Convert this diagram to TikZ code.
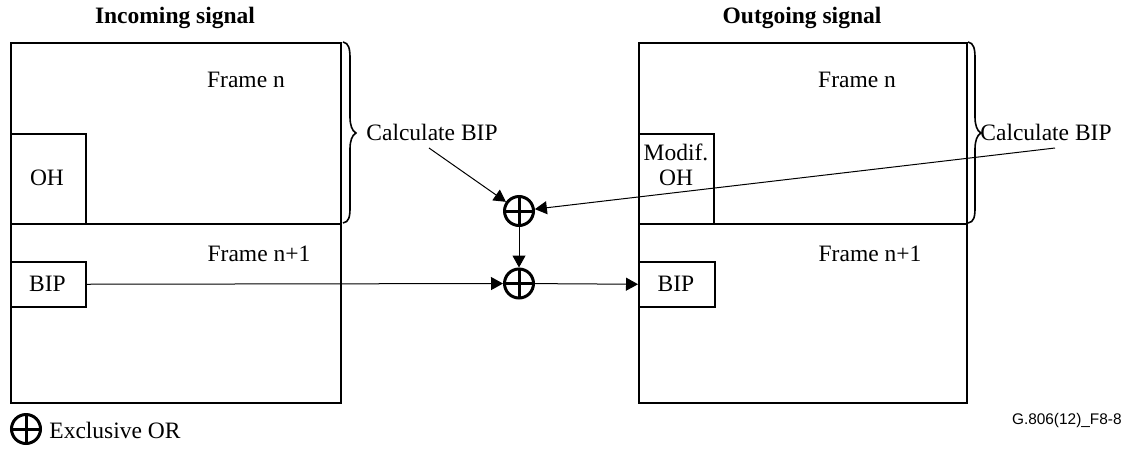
\documentclass[tikz,border=0pt]{standalone}
\usepackage{fontspec}
\setmainfont{Liberation Serif}
\newfontfamily\labelsans{Liberation Sans}
\usetikzlibrary{arrows.meta}
\begin{document}
\begin{tikzpicture}[x=0.5pt,y=-0.5pt,
  every node/.style={font=\fontsize{11.75}{13}\selectfont},
  frame/.style={draw,line width=0.75pt,inner sep=0,anchor=north west},
  txt/.style={inner sep=0},
  xor/.style={circle,draw,line width=1.5pt,minimum size=14.5pt,inner sep=0,
    path picture={\draw[line width=1.5pt] (path picture bounding box.north) -- (path picture bounding box.south)
      (path picture bounding box.west) -- (path picture bounding box.east);}},
  arr/.style={line width=0.5pt,-{Triangle[length=6pt,width=6.5pt]}},
  mybrace/.pic={\draw[line width=0.8pt] (0,0) .. controls (6,1) and (7,7) .. (7,17) -- (7,75)
      .. controls (7,83) and (9,89) .. (13,91) .. controls (9,93) and (7,99) .. (7,107) -- (7,165)
      .. controls (7,175) and (6,180) .. (0,181);}]
\useasboundingbox (0,0) rectangle (1128,450);
% titles
\node[txt,font=\fontsize{11.75}{13}\selectfont\bfseries] (tin) at (175,18) {Incoming signal};
\node[txt,font=\fontsize{11.75}{13}\selectfont\bfseries] (tout) at (802,18) {Outgoing signal};
% left frames
\node[frame,minimum width=165pt,minimum height=90.5pt] (lfn) at (10,42) {};
\node[frame,minimum width=165pt,minimum height=89.5pt] (lfn1) at (10,223) {};
\node[frame,minimum width=37.5pt,minimum height=45pt] (loh) at (10,133) {};
\node[txt] (lohT) at (47,178) {OH};
\node[frame,minimum width=37.5pt,minimum height=22.5pt] (lbip) at (10,261) {};
\node[txt] (lbipT) at (47.5,283.5) {BIP};
\node[txt] (lfnT) at (246,80) {Frame n};
\node[txt] (lfn1T) at (259,254) {Frame n+1};
% right frames
\node[frame,minimum width=164pt,minimum height=90.5pt] (rfn) at (638,42) {};
\node[frame,minimum width=164pt,minimum height=89.5pt] (rfn1) at (638,223) {};
\node[frame,minimum width=37.5pt,minimum height=45pt] (roh) at (638,133) {};
\node[txt,align=center,font=\fontsize{11.75}{12.5}\selectfont] (rohT) at (676,165) {Modif.\\OH};
\node[frame,minimum width=38pt,minimum height=22.5pt] (rbip) at (638,261) {};
\node[txt] (rbipT) at (676,283.5) {BIP};
\node[txt] (rfnT) at (857,80) {Frame n};
\node[txt] (rfn1T) at (870,254) {Frame n+1};
% braces
\pic at (343,42) {mybrace};
\pic at (968,42) {mybrace};
\node[txt,anchor=west] (calcL) at (366,132) {Calculate BIP};
\node[txt,anchor=west] (calcR) at (980,132) {Calculate BIP};
% xor gates
\node[xor] (x1) at (519,211) {};
\node[xor] (x2) at (519,283.5) {};
\coordinate (cLs) at (429,148);
\coordinate (cRs) at (1055,148);
\draw[arr] (cLs) -- (x1);
\draw[arr] (cRs) -- (x1);
\draw[arr] (x1) -- (x2);
\draw[arr] (lbip.east) -- (x2);
\draw[arr] (x2) -- (rbip.west);
% legend
\node[xor] (lx) at (26,429) {};
\node[txt,anchor=west] (lxT) at (49,430) {Exclusive OR};
\node[txt,anchor=east,font=\labelsans\fontsize{7.7}{9}\selectfont] (fig) at (1122,421) {G.806(12)\_F8-8};
\end{tikzpicture}
\end{document}
